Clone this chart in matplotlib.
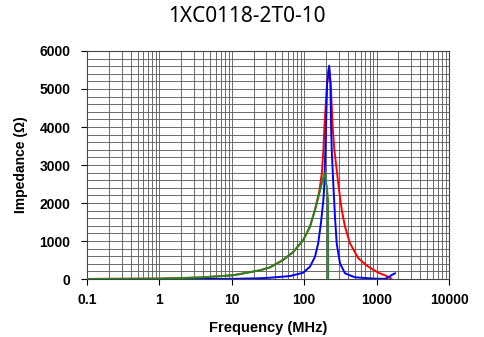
import matplotlib.pyplot as plt
import numpy as np

# Curves (frequency in MHz, impedance in ohm)
z_freq = [0.1, 1, 3.6, 10.5, 24.5, 33.7, 51, 71, 97, 120, 141, 162, 175, 184, 190,
          207, 220, 232, 247, 261, 281, 303, 330, 366, 429, 560, 769, 1057, 1377,
          1531, 1600]
z_vals = [2, 12, 40, 100, 230, 307, 500, 718, 1026, 1377, 1830, 2320, 2780, 3395, 4000,
          5150, 5580, 5150, 4000, 3395, 2868, 2342, 1816, 1377, 939, 544, 324, 167, 79,
          35, 0]

r_freq = [0.1, 3.6, 10, 24.5, 33.7, 63.7, 97, 120, 141, 156, 170, 184, 190, 196, 200,
          207, 221, 230, 235, 240, 252, 266, 281, 312, 366, 503, 951, 1306, 1450,
          1615, 1795]
r_vals = [0, 2, 5, 20, 35, 79, 167, 324, 587, 939, 1465, 2079, 2518, 3395, 4000,
          5150, 5610, 5150, 4000, 3395, 2518, 1640, 939, 413, 150, 45, 10, 5, 40,
          105, 150]

x_freq = [0.1, 1, 3.6, 10.5, 24.5, 33.7, 51, 71, 97, 120, 141, 162, 180, 190, 205,
          213, 213.5]
x_vals = [2, 12, 40, 100, 230, 307, 500, 718, 1026, 1377, 1816, 2255, 2605, 2780, 2430,
          2100, 0]

x_ticks = [0.1, 1, 10, 100, 1000, 10000]
x_tick_labels = ['0.1', '1', '10', '100', '1000', '10000']
y_ticks = [0, 1000, 2000, 3000, 4000, 5000, 6000]

fig = plt.figure(figsize=(4.84, 3.37), dpi=100)
ax = fig.add_axes([0.1798, 0.172, 0.7479, 0.6767])

ax.plot(z_freq, z_vals, color='#ff0000', lw=1.4, zorder=3)
ax.plot(r_freq, r_vals, color='#0000ff', lw=1.4, zorder=4)
ax.plot(x_freq, x_vals, color='#1f8a1f', lw=1.4, zorder=5)

ax.set_xscale('log')
ax.set_xlim(0.1, 10000)
ax.set_ylim(0, 6000)

ax.set_xticks(x_ticks)
ax.set_xticklabels(x_tick_labels)
ax.set_yticks(y_ticks)
ax.set_yticks(np.arange(0, 6001, 200), minor=True)
ax.tick_params(axis='both', which='major', labelsize=10, length=4, width=0.8)
ax.tick_params(axis='x', which='major', pad=6)
ax.tick_params(axis='y', which='major', pad=8)
ax.tick_params(axis='both', which='minor', length=0)
for lbl in ax.get_xticklabels() + ax.get_yticklabels():
    lbl.set_fontweight('bold')
    lbl.set_fontfamily('Liberation Sans')

ax.grid(True, which='both', color='#606060', lw=0.65)
ax.set_axisbelow(True)
for s in ax.spines.values():
    s.set_color('#444444')
    s.set_linewidth(0.8)

ax.set_xlabel('Frequency (MHz)', fontsize=10.5, fontweight='bold',
              family='Liberation Sans', labelpad=10)
ax.set_ylabel('Impedance (\u03a9)', fontsize=10, fontweight='bold',
              family='Liberation Sans', labelpad=8)

fig.text(0.51, 0.95, '1XC0118-2T0-10', ha='center', va='center', fontsize=15,
         family='Noto Sans')

fig.savefig('out.png', dpi=100)
